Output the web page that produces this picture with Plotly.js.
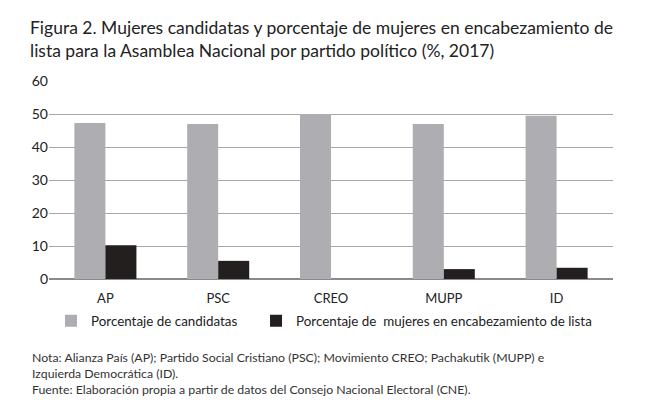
<!DOCTYPE html>
<html>
<head>
<meta charset="utf-8">
<script src="https://cdn.plot.ly/plotly-3.0.1.min.js"></script>
<style>html,body{margin:0;padding:0;background:#fff;}#chart{width:660px;height:418px;}</style>
</head>
<body>
<div id="chart"></div>
<script>
var partidos = ["AP", "PSC", "CREO", "MUPP", "ID"];
var candidatas = [47.3, 47.0, 50.0, 47.0, 49.5];
var encabezamiento = [10.2, 5.5, 0, 3.0, 3.4];
var serieNombres = ["Porcentaje de candidatas", "Porcentaje de\u00a0 mujeres en encabezamiento de lista"];
var yTicks = [0, 10, 20, 30, 40, 50, 60];
var tituloLineas = [
  "Figura 2. Mujeres candidatas y porcentaje de mujeres en encabezamiento de",
  "lista para la Asamblea Nacional por partido político (%, 2017)"
];
var notaLineas = [
  "Nota: Alianza País (AP); Partido Social Cristiano (PSC); Movimiento CREO; Pachakutik (MUPP) e",
  "Izquierda Democrática (ID).",
  "Fuente: Elaboración propia a partir de datos del Consejo Nacional Electoral (CNE)."
];

var FONT = "Lato, 'Noto Sans', sans-serif";
var L = 49, R = 613, T = 81, B = 279;
var pw = R - L, ph = B - T;
function px2x(px) { return (px - L) / pw; }
function py2y(py) { return (B - py) / ph; }

var traces = [
  {type: "bar", x: partidos, y: candidatas,
   name: serieNombres[0] + "\u00a0\u00a0\u00a0\u00a0",
   marker: {color: "#aeadb2", line: {width: 0}}, hoverinfo: "x+y"},
  {type: "bar", x: partidos, y: encabezamiento, name: serieNombres[1],
   marker: {color: "#231f1e", line: {width: 0}}, hoverinfo: "x+y"}
];

var annotations = [{
  text: notaLineas.join("<br>"), xref: "paper", yref: "paper", x: px2x(30), y: py2y(348),
  xanchor: "left", yanchor: "top", showarrow: false, align: "left",
  font: {family: FONT, size: 12.3, color: "#333"}
}];

var layout = {
  width: 660, height: 418,
  margin: {l: L, r: 660 - R, t: T, b: 418 - B, pad: 0},
  paper_bgcolor: "#fff", plot_bgcolor: "#fff",
  font: {family: FONT, color: "#222"},
  title: {text: tituloLineas.join("<br>"), xref: "container", yref: "container",
    x: 30 / 660, xanchor: "left", y: 1 - 34 / 418, yanchor: "top",
    font: {family: FONT, size: 17.5, color: "#222"}},
  barmode: "group", bargap: 0.45, bargroupgap: 0,
  xaxis: {type: "category", showgrid: false, showline: false, zeroline: false,
    ticks: "", tickfont: {size: 13, color: "#222"}, ticklabelstandoff: 10},
  yaxis: {range: [0, 60], tickvals: yTicks, ticktext: yTicks.map(String),
    showgrid: true, gridcolor: "#a8a8a8", gridwidth: 1,
    zeroline: true, zerolinecolor: "#8a8a8a", zerolinewidth: 1.5,
    showline: false, ticks: "", tickfont: {size: 14, color: "#222"}},
  showlegend: true,
  legend: {orientation: "h", x: px2x(51), xanchor: "left", y: py2y(321), yanchor: "middle",
    font: {family: FONT, size: 13.4, color: "#222"},
    bgcolor: "rgba(0,0,0,0)", borderwidth: 0, traceorder: "normal"},
  annotations: annotations
};

Plotly.newPlot("chart", traces, layout, {displayModeBar: false, staticPlot: true});
</script>
</body>
</html>
